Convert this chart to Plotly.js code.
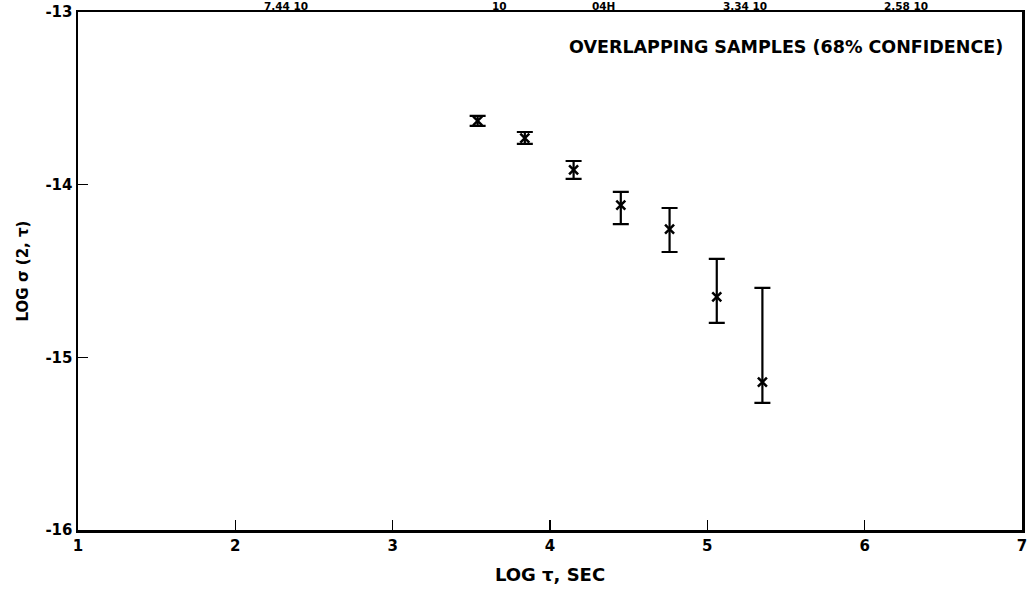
<!DOCTYPE html>
<html>
<head>
<meta charset="utf-8">
<script src="https://cdn.plot.ly/plotly-3.0.1.min.js"></script>
<style>html,body{margin:0;padding:0;background:#fff;}#chart{width:1029px;height:591px;}</style>
</head>
<body>
<div id="chart"></div>
<script>
// Data
const logTau = [3.54, 3.84, 4.15, 4.45, 4.76, 5.06, 5.35];
const logSigma = [-13.63, -13.73, -13.915, -14.118, -14.257, -14.65, -15.143];
const upperBound = [-13.602, -13.695, -13.863, -14.042, -14.135, -14.43, -14.598];
const lowerBound = [-13.66, -13.764, -13.967, -14.228, -14.39, -14.80, -15.264];
const xTicks = [1, 2, 3, 4, 5, 6, 7];
const yTicks = [-16, -15, -14, -13];
const topLabels = ['7.44 10', '10', '04H', '3.34 10', '2.58 10'];
const topLabelX = [2.32, 3.68, 4.34, 5.24, 6.26];

const errPlus = logSigma.map((v, i) => upperBound[i] - v);
const errMinus = logSigma.map((v, i) => v - lowerBound[i]);

const font = 'DejaVu Sans, Arial, Helvetica, sans-serif';
const fw = 'bold';

const trace = {
  x: logTau,
  y: logSigma,
  type: 'scatter',
  mode: 'markers',
  marker: {symbol: 'x-thin', size: 9, color: '#000', line: {width: 2.5, color: '#000'}},
  error_y: {type: 'data', symmetric: false, array: errPlus, arrayminus: errMinus,
            color: '#000', thickness: 2.2, width: 8},
  hoverinfo: 'skip'
};

const annotations = [{
  xref: 'paper', yref: 'paper', x: 0.982, y: 0.932, xanchor: 'right', yanchor: 'middle',
  text: 'OVERLAPPING SAMPLES (68% CONFIDENCE)', showarrow: false,
  font: {family: font, size: 17.5, color: '#000', weight: fw}
}];
topLabels.forEach((t, i) => annotations.push({
  xref: 'x', yref: 'paper', x: topLabelX[i], y: 1, xanchor: 'center', yanchor: 'bottom',
  yshift: -1, text: t, showarrow: false, font: {family: font, size: 10.5, color: '#000', weight: fw},
  borderpad: 0
}));

const layout = {
  width: 1029, height: 591,
  margin: {l: 78, r: 7, t: 12, b: 61},
  paper_bgcolor: '#fff', plot_bgcolor: '#fff',
  showlegend: false,
  font: {family: font, color: '#000', size: 15, weight: fw},
  xaxis: {
    range: [1, 7], tickvals: xTicks, ticktext: xTicks.map(String),
    ticks: 'inside', ticklen: 10, tickwidth: 1.5, tickcolor: '#000',
    showline: true, linewidth: 2.5, linecolor: '#000', mirror: true,
    showgrid: false, zeroline: false,
    tickfont: {family: font, size: 15, color: '#000', weight: fw},
    title: {text: 'LOG τ, SEC', font: {family: font, size: 18, color: '#000', weight: fw}, standoff: 15}
  },
  yaxis: {
    range: [-16, -13], tickvals: yTicks, ticktext: yTicks.map(String),
    ticks: 'inside', ticklen: 10, tickwidth: 1.5, tickcolor: '#000',
    showline: true, linewidth: 2.5, linecolor: '#000', mirror: true,
    showgrid: false, zeroline: false,
    tickfont: {family: font, size: 15, color: '#000', weight: fw},
    title: {text: 'LOG σ (2, τ)', font: {family: font, size: 15, color: '#000', weight: fw}, standoff: 13}
  },
  annotations: annotations
};

Plotly.newPlot('chart', [trace], layout, {displayModeBar: false, staticPlot: true});
</script>
</body>
</html>
